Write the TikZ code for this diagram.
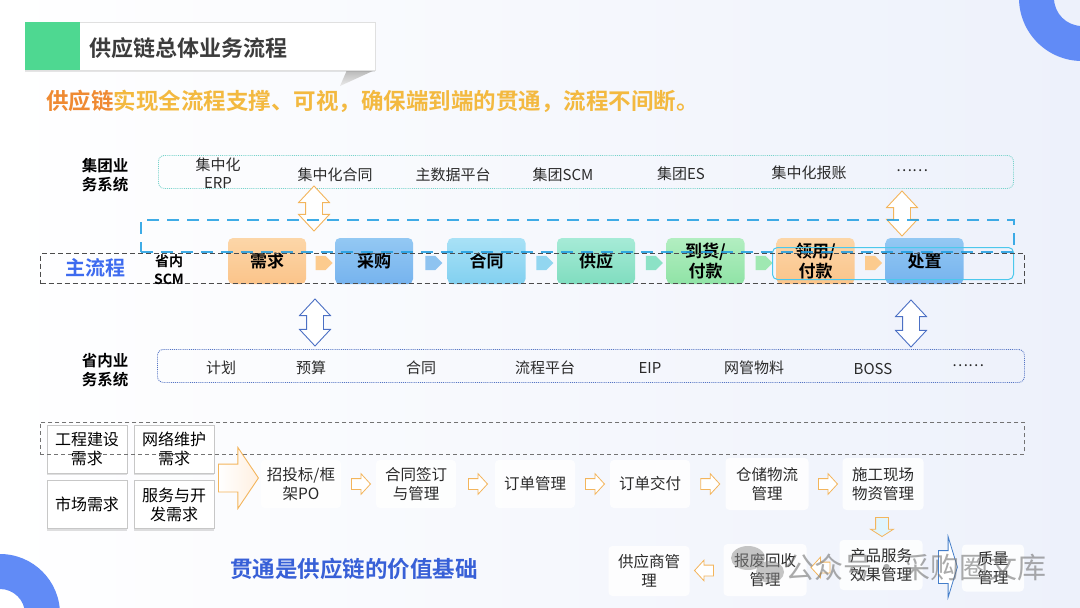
\documentclass[tikz,border=0pt]{standalone}
\usepackage{fontspec}
\setmainfont{Noto Sans CJK SC}[BoldFont={Noto Sans CJK SC Bold}]
\usetikzlibrary{shapes.arrows,shadows,calc}
\definecolor{bgR}{HTML}{EDF1FB}
\definecolor{ringblue}{HTML}{618BF6}
\definecolor{tgreen}{HTML}{4ED891}
\definecolor{torange}{HTML}{EF8A32}
\definecolor{tgold}{HTML}{F3B940}
\definecolor{mainblue}{HTML}{3E6BEF}
\definecolor{tealdot}{HTML}{78D3CB}
\definecolor{sysblue}{HTML}{5474C4}
\definecolor{dashblue}{HTML}{1E9EE2}
\definecolor{cyanrect}{HTML}{4CC8EC}
\definecolor{arrorange}{HTML}{F3B55C}
\definecolor{arrblue}{HTML}{4C70C4}
\definecolor{textdark}{HTML}{2A2A2A}
\definecolor{titlegray}{HTML}{3C3C3C}
\definecolor{oTop}{HTML}{FCD6A8}\definecolor{oBot}{HTML}{FBC48A}
\definecolor{bTop}{HTML}{93C8F3}\definecolor{bBot}{HTML}{76B3EE}
\definecolor{cTop}{HTML}{A8E1F6}\definecolor{cBot}{HTML}{82D0F0}
\definecolor{mTop}{HTML}{A6EBD7}\definecolor{mBot}{HTML}{80DDBF}
\definecolor{gTop}{HTML}{B2EEC1}\definecolor{gBot}{HTML}{90E3A6}
\definecolor{aO}{HTML}{FCCB8E}\definecolor{aB}{HTML}{8EC3F0}
\definecolor{aC}{HTML}{92D6F0}\definecolor{aM}{HTML}{8CE2C6}
\definecolor{aG}{HTML}{9FE8B2}
\tikzset{
  sysbox/.style={draw=#1, densely dotted, line width=0.9pt, rounded corners=6pt, anchor=north west, inner sep=0pt},
  syslabel/.style={font=\bfseries\fontsize{15.5}{19}\selectfont, align=center, text=black, inner sep=0pt},
  sysitem/.style={font=\fontsize{15}{18}\selectfont, text=textdark, align=center, inner sep=0pt},
  procbox/.style={rounded corners=5pt, minimum width=78pt, minimum height=46pt, font=\bfseries\fontsize{17}{20}\selectfont, align=center, inner sep=0pt, text=black},
  smallarr/.style={single arrow, single arrow head extend=0pt, minimum height=17pt, inner xsep=4.5pt, inner ysep=7pt},
  dblarr/.style={double arrow, rotate=90, double arrow head extend=7pt, double arrow tip angle=86, minimum height=#1, inner xsep=0pt, inner ysep=8pt, line width=0.9pt},
  demandbox/.style={draw=black!22, fill=white, minimum width=80pt, minimum height=48pt, font=\fontsize{16}{19}\selectfont, align=center, inner sep=0pt, drop shadow={shadow xshift=0pt, shadow yshift=-2pt, opacity=0.25}},
  flowbox/.style={fill=white, fill opacity=0.85, text opacity=1, rounded corners=4pt, minimum width=80pt, minimum height=48pt, font=\fontsize{15.5}{18.5}\selectfont, align=center, inner sep=0pt, text=textdark},
  flowarr/.style={single arrow, draw=arrorange, fill=white, single arrow head extend=5pt, single arrow tip angle=95, minimum height=19pt, inner xsep=0pt, inner ysep=5pt, line width=0.8pt},
}
\begin{document}
\begin{tikzpicture}[x=1pt,y=-1pt]
\useasboundingbox (0,0) rectangle (1080,608);
\shade[left color=white, right color=bgR] (0,0) rectangle (1080,608);
% decorative rings
\fill[ringblue, even odd rule] (1082,-2) circle[radius=63pt] (1082,-2) circle[radius=28pt];
\fill[ringblue, even odd rule] (0,614) circle[radius=60pt] (0,614) circle[radius=25pt];
% title
\shade[top color=black!28, bottom color=black!8] (340,86) -- (347,70) -- (375,70) -- cycle;
\node[draw=black!12, fill=white, drop shadow={shadow xshift=0pt, shadow yshift=-1.5pt, opacity=0.2}, minimum width=350pt, minimum height=48pt, anchor=north west, inner sep=0pt] (titlebox) at (25,22) {};
\node[fill=tgreen, minimum width=55pt, minimum height=48pt, anchor=north west, inner sep=0pt] (greenblk) at (25,22) {};
\node[anchor=west, inner sep=0pt, font=\bfseries\fontsize{22}{26}\selectfont, text=titlegray] (title) at (89,48) {供应链总体业务流程};
\node[anchor=west, inner sep=0pt, font=\bfseries\fontsize{22.5}{26}\selectfont] (subtitle) at (46,101) {\textcolor{torange}{供应链}\textcolor{tgold}{实现全流程支撑、可视，确保端到端的贯通，流程不间断。}};
% group systems
\node[syslabel] (toplabel) at (105,175) {集团业\\务系统};
\node[sysbox=tealdot, minimum width=855pt, minimum height=33pt] (topsys) at (158,155) {};
\node[sysitem] (t1) at (218,173) {集中化\\ERP};
\node[sysitem] (t2) at (335,175) {集中化合同};
\node[sysitem] (t3) at (453,175) {主数据平台};
\node[sysitem] (t4) at (563,175) {集团SCM};
\node[sysitem] (t5) at (681,174) {集团ES};
\node[sysitem] (t6) at (809,173) {集中化报账};
\node[sysitem] (t7) at (912,171) {……};
% main process boxes
\node[procbox, top color=oTop, bottom color=oBot] (need) at (267,261) {需求};
\node[procbox, top color=bTop, bottom color=bBot] (buy) at (374,261) {采购};
\node[procbox, top color=cTop, bottom color=cBot] (contract) at (486.5,261) {合同};
\node[procbox, top color=mTop, bottom color=mBot] (supply) at (596,261) {供应};
\node[procbox, top color=gTop, bottom color=gBot] (arrive) at (705.5,261) {到货/\\付款};
\node[procbox, top color=oTop, bottom color=oBot] (use) at (815.5,261) {领用/\\付款};
\node[procbox, top color=bTop, bottom color=bBot] (dispose) at (924.5,261) {处置};
\node[smallarr, fill=aO] (s1) at ($(need.east)!0.5!(buy.west)+(0,2)$) {};
\node[smallarr, fill=aB] (s2) at ($(buy.east)!0.5!(contract.west)+(0,2)$) {};
\node[smallarr, fill=aC] (s3) at ($(contract.east)!0.5!(supply.west)+(0,2)$) {};
\node[smallarr, fill=aM] (s4) at ($(supply.east)!0.5!(arrive.west)+(0,2)$) {};
\node[smallarr, fill=aG] (s5) at ($(arrive.east)!0.5!(use.west)+(0,2)$) {};
\node[smallarr, fill=aO] (s6) at ($(use.east)!0.5!(dispose.west)+(0,2)$) {};
% vertical double arrows
\node[dblarr=45pt, draw=arrorange, fill=white] (ud1) at (314,208.5) {};
\node[dblarr=45pt, draw=arrorange, fill=white] (ud2) at (902,213.5) {};
\node[dblarr=47pt, draw=arrblue, fill=white] (ud3) at (315,322.5) {};
\node[dblarr=47pt, draw=arrblue, fill=white] (ud4) at (911,323.5) {};
% frames
\node[draw=dashblue, line width=2pt, dash pattern=on 12pt off 8pt, draw opacity=0.85, minimum width=873pt, minimum height=32pt, anchor=north west, inner sep=0pt] (scmframe) at (140,219) {};
\node[draw=cyanrect, line width=1pt, rounded corners=5pt, minimum width=241pt, minimum height=32pt, anchor=north west, inner sep=0pt] (tailframe) at (772,247) {};
\node[draw=black!70, line width=1.3pt, dash pattern=on 5pt off 3pt, minimum width=984pt, minimum height=30pt, anchor=north west, inner sep=0pt] (mainframe) at (40,253) {};
\node[anchor=center, inner sep=0pt, font=\bfseries\fontsize{20}{24}\selectfont, text=mainblue] (mainlabel) at (95,268) {主流程};
\node[anchor=center, inner sep=0pt, align=center, font=\bfseries\fontsize{14}{18}\selectfont] (scmlabel) at (169,270) {省内\\SCM};
% provincial systems
\node[syslabel] (botlabel) at (105,370) {省内业\\务系统};
\node[sysbox=sysblue, minimum width=867pt, minimum height=33pt] (botsys) at (157,349) {};
\node[sysitem] (b1) at (221,368) {计划};
\node[sysitem] (b2) at (311,368) {预算};
\node[sysitem] (b3) at (421,368) {合同};
\node[sysitem] (b4) at (545,368) {流程平台};
\node[sysitem] (b5) at (650,368) {EIP};
\node[sysitem] (b6) at (754,368) {网管物料};
\node[sysitem] (b7) at (873,369) {BOSS};
\node[sysitem] (b8) at (968,366) {……};
% demand boxes
\node[demandbox] (d1) at (87,449) {工程建设\\需求};
\node[demandbox] (d2) at (174,449) {网络维护\\需求};
\node[demandbox] (d3) at (87,504.5) {市场需求};
\node[demandbox] (d4) at (174,504.5) {服务与开\\发需求};
\node[draw=black!55, line width=0.9pt, dash pattern=on 4pt off 3pt, minimum width=984pt, minimum height=32pt, anchor=north west, inner sep=0pt] (demframe) at (40,422) {};
\node[single arrow, draw=arrorange, left color=white, right color=orange!12, single arrow head extend=16.5pt, single arrow tip angle=112, minimum height=40pt, inner xsep=0pt, inner ysep=13.5pt, line width=0.9pt, anchor=tail] (bigarr) at (218,478) {};
% flow boxes
\node[flowbox] (bid) at (301,484) {招投标/框\\架PO};
\node[flowbox] (sign) at (416,484) {合同签订\\与管理};
\node[flowbox] (order) at (535,484) {订单管理};
\node[flowbox] (deliver) at (650,484) {订单交付};
\node[flowbox, minimum width=83pt, minimum height=52pt] (wh) at (767,484) {仓储物流\\管理};
\node[flowbox, minimum width=81pt, minimum height=52pt] (site) at (883,484) {施工现场\\物资管理};
\node[flowbox, minimum width=83pt, minimum height=50pt] (prod) at (881,565) {产品服务\\效果管理};
\node[flowbox, minimum width=83pt, minimum height=52pt] (scrap) at (765,570) {报废回收\\管理};
\node[flowbox, minimum width=81pt, minimum height=50pt] (supp) at (649,571) {供应商管\\理};
\node[flowbox, minimum width=62pt, minimum height=47pt] (qual) at (993,568) {质量\\管理};
\node[flowarr] (f1) at ($(bid.east)!0.5!(sign.west)$) {};
\node[flowarr] (f2) at ($(sign.east)!0.5!(order.west)$) {};
\node[flowarr] (f3) at ($(order.east)!0.5!(deliver.west)$) {};
\node[flowarr] (f4) at ($(deliver.east)!0.5!(wh.west)$) {};
\node[flowarr] (f5) at ($(wh.east)!0.5!(site.west)$) {};
\node[single arrow, draw=arrorange, fill=cyan!12, single arrow head extend=5pt, single arrow tip angle=115, minimum height=19pt, inner xsep=6pt, inner ysep=0pt, line width=0.8pt, shape border rotate=270] (f6) at ($(site.south)!0.5!(prod.north)$) {};
\node[flowarr, shape border rotate=180] (f7) at ($(prod.west)!0.5!(scrap.east)$) {};
\node[flowarr, shape border rotate=180] (f8) at ($(scrap.west)!0.5!(supp.east)$) {};
\node[single arrow, draw=arrblue!90!cyan, fill=white, single arrow head extend=14pt, single arrow tip angle=146, minimum height=19pt, inner xsep=0pt, inner ysep=16pt, line width=0.8pt, anchor=tail] (f9) at (938,567) {};
% slogan
\node[inner sep=0pt, font=\bfseries\fontsize{22.5}{26}\selectfont, text=mainblue!90!black] (slogan) at (354,569) {贯通是供应链的价值基础};
% watermark
\fill[black!45, opacity=0.5] (748,558) ellipse[x radius=17pt, y radius=12pt];
\fill[black!45, opacity=0.5] (770,572) ellipse[x radius=14pt, y radius=11pt];
\node[inner sep=0pt, anchor=west, font=\fontsize{29}{32}\selectfont, text=black!55, text opacity=0.6] (wm) at (785,567) {公众号·采购圈文库};
\end{tikzpicture}
\end{document}
